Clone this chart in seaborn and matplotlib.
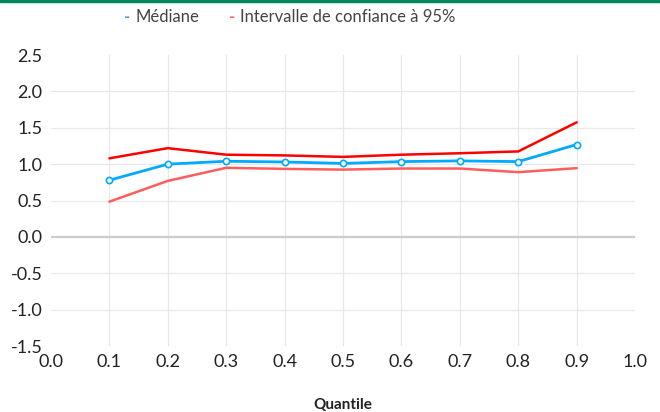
import matplotlib
matplotlib.use("Agg")
import matplotlib.pyplot as plt
import seaborn as sns
import pandas as pd

# Données
quantiles = [0.1, 0.2, 0.3, 0.4, 0.5, 0.6, 0.7, 0.8, 0.9]
mediane = [0.78, 1.00, 1.04, 1.03, 1.01, 1.035, 1.045, 1.035, 1.27]
ic_haut = [1.08, 1.22, 1.13, 1.12, 1.10, 1.13, 1.15, 1.175, 1.575]
ic_bas = [0.485, 0.77, 0.95, 0.935, 0.925, 0.94, 0.94, 0.89, 0.945]

x_ticks = [0.0, 0.1, 0.2, 0.3, 0.4, 0.5, 0.6, 0.7, 0.8, 0.9, 1.0]
y_ticks = [-1.5, -1.0, -0.5, 0.0, 0.5, 1.0, 1.5, 2.0, 2.5]

df = pd.DataFrame({"q": quantiles, "med": mediane, "haut": ic_haut, "bas": ic_bas})

sns.set_style("white")
plt.rcParams["font.family"] = ["Lato", "DejaVu Sans"]

fig = plt.figure(figsize=(6.6, 4.12), dpi=100)
ax = fig.add_axes([0.0773, 0.160, 0.885, 0.7065])

# grille : verticales 0.1..0.9, horizontales -1.0..2.0
for xv in x_ticks[1:-1]:
    ax.axvline(xv, color="#e8e8e8", lw=0.9, zorder=0)
for yv in y_ticks[1:-1]:
    if yv == 0.0:
        ax.axhline(yv, color="#cccccc", lw=1.6, zorder=1)
    else:
        ax.axhline(yv, color="#e8e8e8", lw=0.9, zorder=0)

sns.lineplot(data=df, x="q", y="haut", ax=ax, color="#ff0000", lw=1.8, zorder=3)
sns.lineplot(data=df, x="q", y="bas", ax=ax, color="#ff5c5c", lw=1.8, zorder=3)
sns.lineplot(data=df, x="q", y="med", ax=ax, color="#00aaff", lw=2.0, zorder=4,
             marker="o", markersize=4.5, markerfacecolor="white",
             markeredgecolor="#00aaff", markeredgewidth=1.2)

ax.set_xlim(0, 1)
ax.set_ylim(-1.5, 2.5)
ax.set_xticks(x_ticks)
ax.set_yticks(y_ticks)
ax.set_xticklabels([f"{v:.1f}" for v in x_ticks])
ax.set_yticklabels([f"{v:.1f}" for v in y_ticks])
ax.tick_params(axis="both", length=0, labelsize=13, labelcolor="#222222")
ax.tick_params(axis="x", pad=6)
ax.tick_params(axis="y", pad=6)
for s in ax.spines.values():
    s.set_visible(False)

ax.set_xlabel("Quantile", fontsize=11, fontweight="bold", color="#222222", labelpad=20)
ax.set_ylabel("")

# légende en haut
fig.text(0.188, 0.958, "-", color="#5b9bd5", fontsize=12, ha="left", va="center", fontweight="bold")
fig.text(0.205, 0.958, "Médiane", color="#444444", fontsize=12, ha="left", va="center")
fig.text(0.347, 0.958, "-", color="#ff6b6b", fontsize=12, ha="left", va="center", fontweight="bold")
fig.text(0.364, 0.958, "Intervalle de confiance à 95%", color="#444444", fontsize=12,
         ha="left", va="center")

# filet vert en haut
fig.add_artist(plt.Line2D([0, 1], [0.997, 0.997], color="#00875a", lw=2.5,
                          transform=fig.transFigure))

fig.savefig("out.png", dpi=100, facecolor="white")
